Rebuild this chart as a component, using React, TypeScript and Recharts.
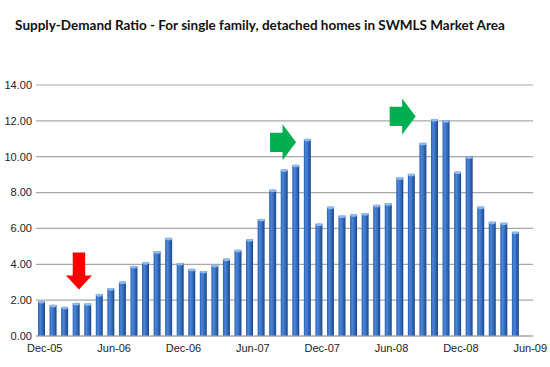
import React from "react";
import { BarChart, Bar, XAxis, YAxis, CartesianGrid, ReferenceDot } from "recharts";

const months = [
  "Dec-05","Jan-06","Feb-06","Mar-06","Apr-06","May-06","Jun-06","Jul-06","Aug-06","Sep-06","Oct-06","Nov-06",
  "Dec-06","Jan-07","Feb-07","Mar-07","Apr-07","May-07","Jun-07","Jul-07","Aug-07","Sep-07","Oct-07","Nov-07",
  "Dec-07","Jan-08","Feb-08","Mar-08","Apr-08","May-08","Jun-08","Jul-08","Aug-08","Sep-08","Oct-08","Nov-08",
  "Dec-08","Jan-09","Feb-09","Mar-09","Apr-09","May-09","Jun-09",
];

const ratio: (number | null)[] = [
  1.95, 1.73, 1.62, 1.84, 1.81, 2.33, 2.66, 3.03, 3.9, 4.11, 4.72, 5.47,
  4.07, 3.74, 3.62, 3.96, 4.31, 4.8, 5.39, 6.52, 8.16, 9.28, 9.54, 10.99,
  6.26, 7.21, 6.71, 6.78, 6.84, 7.31, 7.39, 8.84, 9.04, 10.77, 12.09, 12.03,
  9.16, 10.01, 7.21, 6.37, 6.31, 5.81, null,
];

const yTicks = [0, 2, 4, 6, 8, 10, 12, 14];

const arrows = [
  { x: "Mar-06", y: 2.6, dir: "down", color: "#ff0000", shift: 2.5 },
  { x: "Oct-07", y: 10.8, dir: "right", color: "#00b050", shift: 0 },
  { x: "Aug-08", y: 12.25, dir: "right", color: "#00b050", shift: 4 },
];

const data = months.map((m, i) => ({ month: m, value: ratio[i] }));

const CylBar = (props: any) => {
  const { x, y, width, height } = props;
  if (!height || height <= 0) return null;
  return (
    <g>
      <rect x={x} y={y} width={width} height={height} fill="url(#barGrad)" />
      <ellipse cx={x + width / 2} cy={y + 1} rx={width / 2} ry={1.4} fill="#8fb8ee" />
    </g>
  );
};

const ArrowShape = (dir: string, color: string, shift: number) => (props: any) => {
  const { cy } = props;
  const cx = props.cx + shift;
  if (dir === "down") {
    const hw = 13, sw = 6.2, hh = 14, total = 37;
    const pts = [
      [cx - sw, cy - total], [cx + sw, cy - total], [cx + sw, cy - hh], [cx + hw, cy - hh],
      [cx, cy], [cx - hw, cy - hh], [cx - sw, cy - hh],
    ];
    return <polygon points={pts.map((p) => p.join(",")).join(" ")} fill={color} />;
  }
  const hh = 18, sh = 9.7, hl = 13.5, total = 26;
  const tx = cx;
  const pts = [
    [tx - total, cy - sh], [tx - hl, cy - sh], [tx - hl, cy - hh], [tx, cy],
    [tx - hl, cy + hh], [tx - hl, cy + sh], [tx - total, cy + sh],
  ];
  return <polygon points={pts.map((p) => p.join(",")).join(" ")} fill={color} />;
};

export default function App() {
  return (
    <div style={{ position: "absolute", left: 0, top: 0, width: 550, height: 367, background: "#fff" }}>
      <div
        style={{
          position: "absolute",
          left: 0,
          top: 17,
          width: 520,
          textAlign: "center",
          fontFamily: "Lato, 'Open Sans', sans-serif",
          fontWeight: 700,
          fontSize: 13.5,
          color: "#111",
          whiteSpace: "nowrap",
        }}
      >
        Supply-Demand Ratio - For single family, detached homes in SWMLS Market Area
      </div>
      <BarChart
        width={550}
        height={367}
        data={data}
        margin={{ top: 85, right: 17, left: 0, bottom: 0 }}
        barCategoryGap="40%"
      >
        <defs>
          <linearGradient id="barGrad" x1="0" y1="0" x2="1" y2="0">
            <stop offset="0%" stopColor="#2a5fb0" />
            <stop offset="30%" stopColor="#4a86da" />
            <stop offset="55%" stopColor="#3a72c6" />
            <stop offset="100%" stopColor="#1a4688" />
          </linearGradient>
        </defs>
        <CartesianGrid vertical={false} stroke="#a8a8a8" strokeWidth={1.2} />
        <XAxis
          dataKey="month"
          interval={5}
          tickLine={false}
          axisLine={{ stroke: "#a8a8a8", strokeWidth: 1.2 }}
          height={31}
          tick={{ fontSize: 11, fill: "#222", fontFamily: "'Liberation Sans', Arial, sans-serif", dx: 3 }}
        />
        <YAxis
          domain={[0, 14]}
          ticks={yTicks}
          width={36}
          axisLine={false}
          tickLine={false}
          tickSize={0}
          tickMargin={4}
          tickFormatter={(v: number) => v.toFixed(2)}
          tick={{ fontSize: 11, fill: "#222", fontFamily: "'Liberation Sans', Arial, sans-serif" }}
        />
        <Bar dataKey="value" barSize={7} shape={CylBar} isAnimationActive={false} />
        {arrows.map((a, i) => (
          <ReferenceDot
            key={i}
            x={a.x}
            y={a.y}
            r={1}
            ifOverflow="visible"
            shape={ArrowShape(a.dir, a.color, a.shift)}
          />
        ))}
      </BarChart>
    </div>
  );
}
